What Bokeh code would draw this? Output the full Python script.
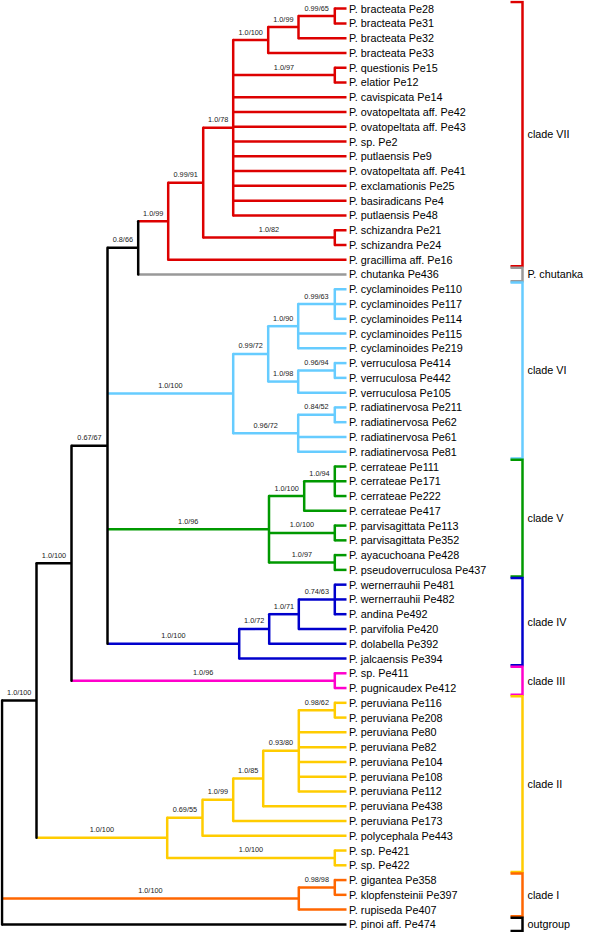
from bokeh.plotting import figure
from bokeh.models import Range1d
from bokeh.core.properties import value
from bokeh.embed import file_html
from bokeh.resources import INLINE

# ---------------- data ----------------
leaf_names = [
    "P. bracteata Pe28", "P. bracteata Pe31", "P. bracteata Pe32", "P. bracteata Pe33",
    "P. questionis Pe15", "P. elatior Pe12", "P. cavispicata Pe14",
    "P. ovatopeltata aff.  Pe42", "P. ovatopeltata aff.  Pe43", "P. sp. Pe2",
    "P. putlaensis Pe9", "P. ovatopeltata aff.  Pe41", "P. exclamationis Pe25",
    "P. basiradicans Pe4", "P. putlaensis Pe48", "P. schizandra Pe21", "P. schizandra Pe24",
    "P. gracillima aff. Pe16", "P. chutanka Pe436",
    "P. cyclaminoides Pe110", "P. cyclaminoides Pe117", "P. cyclaminoides Pe114",
    "P. cyclaminoides Pe115", "P. cyclaminoides Pe219", "P. verruculosa Pe414",
    "P. verruculosa Pe442", "P. verruculosa Pe105", "P. radiatinervosa Pe211",
    "P. radiatinervosa Pe62", "P. radiatinervosa Pe61", "P. radiatinervosa Pe81",
    "P. cerrateae Pe111", "P. cerrateae Pe171", "P. cerrateae  Pe222", "P. cerrateae  Pe417",
    "P. parvisagittata Pe113", "P. parvisagittata Pe352", "P. ayacuchoana Pe428",
    "P. pseudoverruculosa Pe437",
    "P. wernerrauhii Pe481", "P. wernerrauhii Pe482", "P. andina Pe492",
    "P. parvifolia Pe420", "P. dolabella Pe392", "P. jalcaensis Pe394",
    "P. sp. Pe411", "P. pugnicaudex  Pe412",
    "P. peruviana Pe116", "P. peruviana Pe208", "P. peruviana Pe80", "P. peruviana Pe82",
    "P. peruviana Pe104", "P. peruviana Pe108", "P. peruviana Pe112", "P. peruviana Pe438",
    "P. peruviana Pe173", "P. polycephala Pe443", "P. sp. Pe421", "P. sp. Pe422",
    "P. gigantea Pe358", "P. klopfensteinii Pe397", "P. rupiseda Pe407",
    "P. pinoi aff. Pe474",
]
leaf_parent = [
    "J", "J", "I", "H", "Q15", "Q15", "G", "G", "G", "G", "G", "G", "G", "G", "G",
    "Sc", "Sc", "E", "D",
    "P", "P", "P", "N", "N", "Qv", "Qv", "O", "R", "R", "M", "M",
    "W", "W", "W", "T", "U", "U", "V", "V",
    "AA", "AA", "AA", "Z", "Y", "X",
    "AB", "AB",
    "AI", "AI", "AH", "AH", "AH", "AH", "AH", "AG", "AF", "AD", "AE", "AE",
    "AK", "AK", "AJ", "root",
]
leaf_group = (["VII"] * 18 + ["chut"] + ["VI"] * 12 + ["V"] * 8 + ["IV"] * 6
              + ["III"] * 2 + ["II"] * 12 + ["I"] * 3 + ["out"])

node_ids = ["root", "A", "B", "C", "D", "E", "F", "G", "H", "I", "J", "Q15", "Sc",
            "K", "L", "N", "P", "O", "Qv", "M", "R",
            "S", "T", "W", "U", "V",
            "X", "Y", "Z", "AA",
            "AB",
            "AC", "AD", "AF", "AG", "AH", "AI", "AE",
            "AJ", "AK"]
node_parent = [None, "root", "A", "B", "C", "D", "E", "F", "G", "H", "I", "G", "F",
               "C", "K", "L", "N", "L", "O", "K", "M",
               "C", "S", "T", "S", "S",
               "C", "X", "Y", "Z",
               "B",
               "A", "AC", "AD", "AF", "AG", "AH", "AC",
               "root", "AJ"]
node_depth = [0, 34.5, 69.5, 105.5, 136.2, 166.2, 201.2, 231.2, 266.2, 296.5, 332.8, 332.8, 332.8,
              231.2, 266.2, 296.2, 332.8, 296.2, 332.8, 296.2, 332.8,
              267.0, 302.2, 332.8, 332.8, 332.8,
              237.2, 267.2, 296.8, 332.8,
              332.8,
              165.2, 200.5, 231.2, 261.2, 296.8, 332.8, 332.8,
              296.8, 332.8]
node_support = ["", "1.0/100", "1.0/100", "0.67/67", "0.8/66", "1.0/99", "0.99/91", "1.0/78",
                "1.0/100", "1.0/99", "0.99/65", "1.0/97", "1.0/82",
                "1.0/100", "0.99/72", "1.0/90", "0.99/63", "1.0/98", "0.96/94", "0.96/72", "0.84/52",
                "1.0/96", "1.0/100", "1.0/94", "1.0/100", "1.0/97",
                "1.0/100", "1.0/72", "1.0/71", "0.74/63",
                "1.0/96",
                "1.0/100", "0.69/55", "1.0/99", "1.0/85", "0.93/80", "0.98/62", "1.0/100",
                "1.0/100", "0.98/98"]
node_group = (["out"] * 5 + ["VII"] * 8 + ["VI"] * 8 + ["V"] * 5 + ["IV"] * 4
              + ["III"] + ["II"] * 7 + ["I"] * 2)
tip_depth = 344.5

clade_labels = ["clade VII", "P. chutanka", "clade VI", "clade V", "clade IV",
                "clade III", "clade II", "clade I", "outgroup"]
clade_first = [0, 18, 19, 31, 39, 45, 47, 59, 62]
clade_last = [17, 18, 30, 38, 44, 46, 58, 61, 62]
clade_group = ["VII", "chut", "VI", "V", "IV", "III", "II", "I", "out"]

group_color = {
    "VII": "#dd0000", "chut": "#999999", "VI": "#66ccff", "V": "#009900",
    "IV": "#0000cc", "III": "#ff00cc", "II": "#ffcc00", "I": "#ff6600", "out": "#000000",
}

# ---------------- layout of the tree ----------------
depth = dict(zip(node_ids, node_depth))
parent = dict(zip(node_ids, node_parent))
group = dict(zip(node_ids, node_group))
children = {n: [] for n in node_ids}
for n, pa in zip(node_ids, node_parent):
    if pa is not None:
        children[pa].append(n)
for i, pa in enumerate(leaf_parent):
    children[pa].append(("leaf", i))

ypos = {}


def node_y(n):
    if isinstance(n, tuple):
        return float(n[1])
    if n in ypos:
        return ypos[n]
    ys = [node_y(c) for c in children[n]]
    ypos[n] = (min(ys) + max(ys)) / 2.0
    return ypos[n]


for n in node_ids:
    node_y(n)

# horizontal branches
hx0, hx1, hy, hc = [], [], [], []
for n in node_ids[1:]:
    hx0.append(depth[parent[n]]); hx1.append(depth[n]); hy.append(ypos[n])
    hc.append(group_color[group[n]])
for i, pa in enumerate(leaf_parent):
    hx0.append(depth[pa]); hx1.append(tip_depth); hy.append(float(i))
    hc.append(group_color[leaf_group[i]])

# vertical connectors
vx, vy0, vy1, vc = [], [], [], []
for n in node_ids:
    ys = [node_y(c) for c in children[n]]
    vx.append(depth[n]); vy0.append(min(ys)); vy1.append(max(ys))
    vc.append(group_color[group[n]])

# support labels
sx, sy, st = [], [], []
for n, s in zip(node_ids, node_support):
    if s:
        sx.append((depth[parent[n]] + depth[n]) / 2.0)
        sy.append(ypos[n])
        st.append(s)

# ---------------- figure ----------------
p = figure(width=584, height=932, x_range=Range1d(-1.5, 582.5),
           y_range=Range1d(62.55, -0.55), output_backend="svg",
           toolbar_location=None, min_border=0, x_axis_type=None, y_axis_type=None)
p.outline_line_color = None
p.background_fill_color = "white"
p.border_fill_color = "white"

LW = 2.5
p.segment(x0=hx0, y0=hy, x1=hx1, y1=hy, line_color=hc, line_width=LW, line_cap="butt")
p.segment(x0=vx, y0=vy0, x1=vx, y1=vy1, line_color=vc, line_width=LW, line_cap="round")

p.text(x=sx, y=sy, text=st, text_font=value("Liberation Sans"), text_font_size="7.3px",
       text_color="#222222", text_align="center", text_baseline="middle", y_offset=-8)

p.text(x=[tip_depth] * len(leaf_names), y=list(range(len(leaf_names))), text=leaf_names,
       text_font=value("Liberation Sans"), text_font_size="10.8px", text_color="#000000",
       text_align="left", text_baseline="middle", x_offset=2.5)

# clade brackets
bx = 520.5
tick = 12.0
for lab, f, l, g in zip(clade_labels, clade_first, clade_last, clade_group):
    top = f - 0.45
    bot = l + 0.45
    p.line(x=[bx - tick, bx, bx, bx - tick], y=[top, top, bot, bot],
           line_color=group_color[g], line_width=LW, line_join="miter")
    p.text(x=[bx + 5], y=[(top + bot) / 2.0], text=[lab],
           text_font=value("Liberation Sans"), text_font_size="10.8px", text_color="#000000",
           text_align="left", text_baseline="middle")

open("out.html", "w").write(file_html(p, INLINE))
